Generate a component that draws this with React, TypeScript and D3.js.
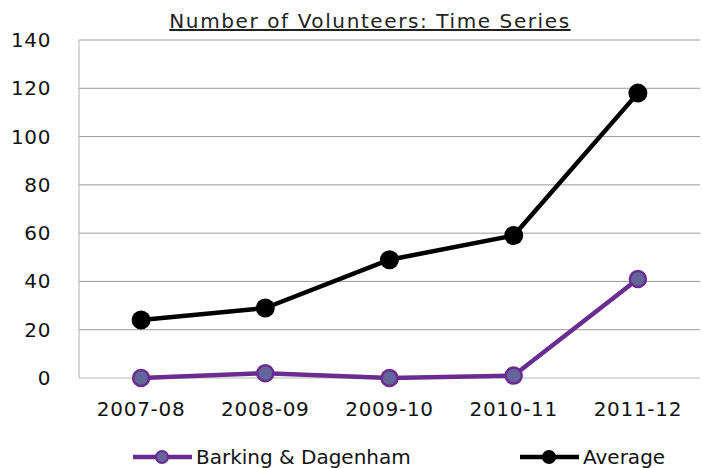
import { scaleBand, scaleLinear, line } from "d3";

const categories = ["2007-08", "2008-09", "2009-10", "2010-11", "2011-12"];
const barkingValues = [0, 2, 0, 1, 41];
const averageValues = [24, 29, 49, 59, 118];
const yTicks = [0, 20, 40, 60, 80, 100, 120, 140];

const FONT = "'DejaVu Sans', Verdana, sans-serif";

export default function App() {
  const width = 702;
  const height = 468;
  const margin = { top: 40, right: 2, bottom: 90, left: 79 };
  const innerWidth = width - margin.left - margin.right;
  const innerHeight = height - margin.top - margin.bottom;

  const x = scaleBand<string>().domain(categories).range([0, innerWidth]);
  const y = scaleLinear().domain([0, 140]).range([innerHeight, 0]);
  const cx = (c: string) => (x(c) ?? 0) + x.bandwidth() / 2;

  const path = line<number>()
    .x((_, i) => cx(categories[i]))
    .y((d) => y(d));

  const series = [
    { name: "Barking & Dagenham", values: barkingValues, stroke: "#6a2c91", fill: "#63659a", r: 8, sw: 2.5 },
    { name: "Average", values: averageValues, stroke: "#000000", fill: "#000000", r: 9.5, sw: 0 }
  ];

  // legend slots: line start x
  const legend = [
    { s: series[0], x0: 133 },
    { s: series[1], x0: 520 }
  ];

  return (
    <svg
      width={width}
      height={height}
      style={{ position: "absolute", left: 0, top: 0, background: "#fff" }}
      fontFamily={FONT}
    >
      <text
        x={370}
        y={28}
        textAnchor="middle"
        fontSize={20}
        letterSpacing={1.6}
        fill="#222"
        textDecoration="underline"
      >
        Number of Volunteers: Time Series
      </text>
      <g transform={`translate(${margin.left}, ${margin.top})`}>
        {yTicks.map((t) => (
          <g key={t}>
            <line x1={0} x2={innerWidth} y1={y(t)} y2={y(t)} stroke={t === 0 ? "#b8b8b8" : "#9a9a9a"} strokeWidth={1} />
            <text x={-28} y={y(t) + 7} textAnchor="end" fontSize={20} letterSpacing={0.6} fill="#111">
              {t}
            </text>
          </g>
        ))}
        <line x1={0} x2={0} y1={0} y2={innerHeight} stroke="#b0b0b0" strokeWidth={1} />
        {categories.map((c) => (
          <text key={c} x={cx(c)} y={innerHeight + 38} textAnchor="middle" fontSize={20} letterSpacing={0.7} fill="#111">
            {c}
          </text>
        ))}
        {series.map((s) => (
          <g key={s.name}>
            <path d={path(s.values) ?? ""} fill="none" stroke={s.stroke} strokeWidth={4.5} strokeLinejoin="round" />
            {s.values.map((v, i) => (
              <circle
                key={i}
                cx={cx(categories[i])}
                cy={y(v)}
                r={s.r}
                fill={s.fill}
                stroke={s.stroke}
                strokeWidth={s.sw}
              />
            ))}
          </g>
        ))}
      </g>
      <g transform="translate(0, 457)">
        {legend.map(({ s, x0 }) => (
          <g key={s.name}>
            <line x1={x0} x2={x0 + 59} y1={0} y2={0} stroke={s.stroke} strokeWidth={4.5} />
            <circle cx={x0 + 29} cy={0} r={s.sw ? 6 : 7} fill={s.fill} stroke={s.stroke} strokeWidth={s.sw ? 2 : 0} />
            <text x={x0 + 63} y={7} fontSize={20} fill="#111">
              {s.name}
            </text>
          </g>
        ))}
      </g>
    </svg>
  );
}
